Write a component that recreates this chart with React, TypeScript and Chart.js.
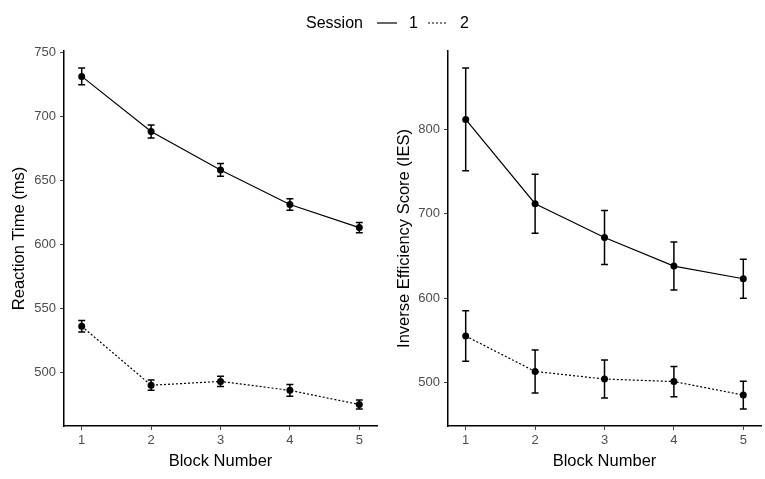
import { useEffect, useRef } from 'react'
import { Chart, registerables } from 'chart.js'

Chart.register(...registerables)

// valores (média ± erro padrão)
const blocks = [1, 2, 3, 4, 5]
const sessions = ['1', '2']
const rtSession1 = [731, 688, 658, 631, 613]
const rtSession1Err = [6.5, 5, 5, 4.5, 4]
const rtSession2 = [536, 490, 493, 486, 475]
const rtSession2Err = [4.5, 4, 4, 4.5, 3.5]
const iesSession1 = [812, 712, 672, 638, 623]
const iesSession1Err = [61, 35, 32, 28.5, 23]
const iesSession2 = [555, 513, 504, 501, 485]
const iesSession2Err = [30, 25.5, 22.5, 18, 16.5]
const rtTicks = [500, 550, 600, 650, 700, 750]
const iesTicks = [500, 600, 700, 800]

const FONT = '"Liberation Sans", Arial, sans-serif'
const CAP = 0.05 // meia largura da barra de erro, em unidades de x

// barras de erro desenhadas pelas escalas do próprio gráfico
const errorBars = {
  id: 'errorBars',
  beforeDatasetsDraw(chart: any) {
    const { ctx, scales: { x, y } } = chart
    ctx.save()
    ctx.strokeStyle = '#000'
    ctx.lineWidth = 1.5
    ctx.setLineDash([])
    chart.data.datasets.forEach((ds: any) => {
      ds.data.forEach((p: any, i: number) => {
        const e = ds.errors[i]
        const px = x.getPixelForValue(p.x)
        const x0 = x.getPixelForValue(p.x - CAP)
        const x1 = x.getPixelForValue(p.x + CAP)
        const top = y.getPixelForValue(p.y + e)
        const bot = y.getPixelForValue(p.y - e)
        ctx.beginPath()
        ctx.moveTo(px, top); ctx.lineTo(px, bot)
        ctx.moveTo(x0, top); ctx.lineTo(x1, top)
        ctx.moveTo(x0, bot); ctx.lineTo(x1, bot)
        ctx.stroke()
      })
    })
    ctx.restore()
  },
}

// faixa com expansão de 5%, como no ggplot
function range(lo: number, hi: number) {
  const pad = (hi - lo) * 0.05
  return [lo - pad, hi + pad]
}

type PanelProps = {
  left: number
  width: number
  yTitle: string
  s1: number[]; e1: number[]
  s2: number[]; e2: number[]
  yTicks: number[]
  axisWidth: number
  titlePad: number
  padRight: number
}

function Panel({ left, width, yTitle, s1, e1, s2, e2, yTicks, axisWidth, titlePad, padRight }: PanelProps) {
  const ref = useRef<HTMLCanvasElement>(null)
  useEffect(() => {
    if (!ref.current) return
    const lows = [...s1.map((v, i) => v - e1[i]), ...s2.map((v, i) => v - e2[i])]
    const highs = [...s1.map((v, i) => v + e1[i]), ...s2.map((v, i) => v + e2[i])]
    const [yMin, yMax] = range(Math.min(...lows), Math.max(...highs))
    const [xMin, xMax] = range(blocks[0] - CAP, blocks[blocks.length - 1] + CAP)
    const tickStyle = { color: '#4d4d4d', font: { size: 13, family: FONT } }
    const titleFont = { size: 16.5, family: FONT }
    const grid = { display: true, drawOnChartArea: false, drawTicks: true, tickLength: 4, color: '#444', lineWidth: 1 }
    const border = { display: true, color: '#000', width: 1.5 }
    const chart = new Chart(ref.current, {
      type: 'line',
      data: {
        datasets: [
          {
            label: sessions[0],
            data: blocks.map((b, i) => ({ x: b, y: s1[i] })),
            errors: e1,
            borderColor: '#000', borderWidth: 1.2,
            pointRadius: 3.5, pointBackgroundColor: '#000', pointBorderWidth: 0,
          },
          {
            label: sessions[1],
            data: blocks.map((b, i) => ({ x: b, y: s2[i] })),
            errors: e2,
            borderColor: '#000', borderWidth: 1.2, borderDash: [2, 2],
            pointRadius: 3.5, pointBackgroundColor: '#000', pointBorderWidth: 0,
          },
        ] as any,
      },
      options: {
        responsive: false,
        animation: false,
        layout: { padding: { top: 51, right: padRight, bottom: 0, left: 0 } },
        plugins: { legend: { display: false }, tooltip: { enabled: false } },
        scales: {
          x: {
            type: 'linear', min: xMin, max: xMax,
            afterBuildTicks: (s: any) => { s.ticks = blocks.map(v => ({ value: v })) },
            afterFit: (s: any) => { s.height = 53 },
            grid, border,
            ticks: { ...tickStyle, padding: 3 },
            title: { display: true, text: 'Block Number', color: '#000', font: titleFont, padding: { top: 0, bottom: 8 } },
          },
          y: {
            type: 'linear', min: yMin, max: yMax,
            afterBuildTicks: (s: any) => { s.ticks = yTicks.map(v => ({ value: v })) },
            afterFit: (s: any) => { s.width = axisWidth },
            grid, border,
            ticks: { ...tickStyle, padding: 4 },
            title: { display: true, text: yTitle, color: '#000', font: titleFont, padding: { top: titlePad, bottom: 0 } },
          },
        },
      } as any,
      plugins: [errorBars],
    })
    return () => chart.destroy()
  }, [])
  return <canvas ref={ref} width={width} height={479} style={{ position: 'absolute', left, top: 0 }} />
}

function Legend() {
  const text = { position: 'absolute' as const, top: 14, fontFamily: FONT, fontSize: 16, lineHeight: '18px', color: '#000' }
  return (
    <>
      <span style={{ ...text, left: 306 }}>Session</span>
      <svg width={20} height={4} style={{ position: 'absolute', left: 377, top: 21 }}>
        <line x1={0} y1={2} x2={20} y2={2} stroke="#000" strokeWidth={1.2} />
      </svg>
      <span style={{ ...text, left: 409 }}>{sessions[0]}</span>
      <svg width={20} height={4} style={{ position: 'absolute', left: 428, top: 21 }}>
        <line x1={0} y1={2} x2={20} y2={2} stroke="#000" strokeWidth={1.2} strokeDasharray="2 2" />
      </svg>
      <span style={{ ...text, left: 460 }}>{sessions[1]}</span>
    </>
  )
}

export default function App() {
  return (
    <div style={{ position: 'fixed', left: 0, top: 0, width: 765, height: 479, background: '#fff' }}>
      <Panel left={0} width={383} yTitle="Reaction Time (ms)" s1={rtSession1} e1={rtSession1Err} s2={rtSession2} e2={rtSession2Err}
        yTicks={rtTicks} axisWidth={64} titlePad={10} padRight={6} />
      <Panel left={383} width={382} yTitle="Inverse Efficiency Score (IES)" s1={iesSession1} e1={iesSession1Err} s2={iesSession2} e2={iesSession2Err}
        yTicks={iesTicks} axisWidth={65} titlePad={12} padRight={3} />
      <Legend />
    </div>
  )
}
